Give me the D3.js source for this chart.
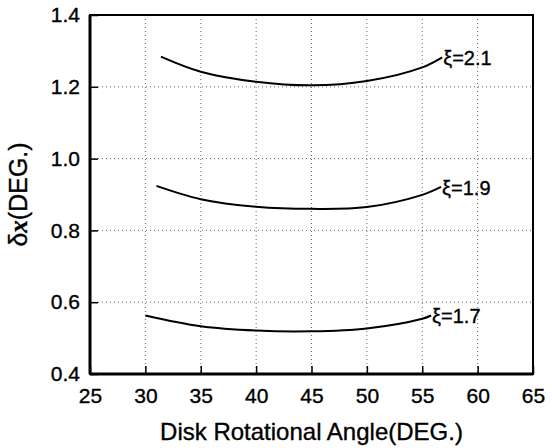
<!DOCTYPE html>
<html>
<head>
<meta charset="utf-8">
<script src="https://cdn.jsdelivr.net/npm/d3@7"></script>
<style>
body { margin: 0; background: #fff; }
text { font-family: "Liberation Sans", Arial, sans-serif; fill: #000; stroke: #000; stroke-width: 0.35px; }
</style>
</head>
<body>
<div id="chart"></div>
<script>
var margin = {top: 15, right: 19, bottom: 74, left: 90},
width = 552 - margin.left - margin.right,
height = 448 - margin.top - margin.bottom;

// data
var xTicks = [25, 30, 35, 40, 45, 50, 55, 60, 65];
var yTicks = [0.4, 0.6, 0.8, 1.0, 1.2, 1.4];
var seriesNames = ["\u03BE=2.1", "\u03BE=1.9", "\u03BE=1.7"];
var angle21 = [31.4, 35, 40, 45, 50, 55, 56.8];
var dx21    = [1.284, 1.242, 1.214, 1.204, 1.216, 1.254, 1.282];
var angle19 = [31.0, 35, 40, 45, 50, 55, 56.7];
var dx19    = [0.924, 0.887, 0.866, 0.860, 0.865, 0.899, 0.921];
var angle17 = [30.0, 35, 40, 45, 50, 55, 55.8];
var dx17    = [0.563, 0.533, 0.521, 0.519, 0.527, 0.554, 0.563];

var series = [
  {name: seriesNames[0], pts: angle21.map((a, i) => [a, dx21[i]])},
  {name: seriesNames[1], pts: angle19.map((a, i) => [a, dx19[i]])},
  {name: seriesNames[2], pts: angle17.map((a, i) => [a, dx17[i]])}
];

var x = d3.scaleLinear().domain([25, 65]).range([0, width]);
var y = d3.scaleLinear().domain([0.4, 1.4]).range([height, 0]);

var svg = d3.select('#chart').append("svg")
.attr("width", width + margin.left + margin.right)
.attr("height", height + margin.top + margin.bottom)
.append("g")
.attr("transform", "translate(" + margin.left + "," + margin.top + ")");

// grid
svg.selectAll(".vgrid")
.data(xTicks.slice(1, -1))
.enter().append("line")
.attr("x1", d => x(d)).attr("x2", d => x(d))
.attr("y1", 0).attr("y2", height)
.style("stroke", "#444").style("stroke-width", 0.8)
.style("stroke-dasharray", "1,3");

svg.selectAll(".hgrid")
.data(yTicks.slice(1, -1))
.enter().append("line")
.attr("x1", 0).attr("x2", width)
.attr("y1", d => y(d)).attr("y2", d => y(d))
.style("stroke", "#444").style("stroke-width", 0.8)
.style("stroke-dasharray", "1,3");

// axes, ticks inward
var xAxis = d3.axisBottom(x).tickValues(xTicks).tickSize(-8).tickPadding(14).tickFormat(d3.format("d"));
var yAxis = d3.axisLeft(y).tickValues(yTicks).tickSize(-8).tickPadding(10).tickFormat(d3.format(".1f"));

svg.append("g")
.attr("transform", "translate(0," + height + ")")
.call(xAxis)
.call(g => g.select(".domain").remove())
.call(g => g.selectAll("line").style("stroke-width", 1.5))
.call(g => g.selectAll("text").style("font-size", "21px"));

svg.append("g")
.call(yAxis)
.call(g => g.select(".domain").remove())
.call(g => g.selectAll("line").style("stroke-width", 1.5))
.call(g => g.selectAll("text").style("font-size", "21px"));

// frame
svg.append("rect")
.attr("width", width).attr("height", height)
.style("fill", "none").style("stroke", "#000").style("stroke-width", 2);
svg.append("line").attr("x1", 0).attr("x2", 0).attr("y1", 0).attr("y2", height)
.style("stroke", "#000").style("stroke-width", 3);
svg.append("line").attr("x1", 0).attr("x2", width).attr("y1", height).attr("y2", height)
.style("stroke", "#000").style("stroke-width", 3);

// curves
var line = d3.line().x(d => x(d[0])).y(d => y(d[1])).curve(d3.curveCatmullRom);

svg.selectAll(".curve")
.data(series)
.enter().append("path")
.attr("d", d => line(d.pts))
.style("fill", "none").style("stroke", "#000").style("stroke-width", 2);

svg.selectAll(".lbl")
.data(series)
.enter().append("text")
.attr("x", d => x(d.pts[d.pts.length - 1][0]) + 1)
.attr("y", d => y(d.pts[d.pts.length - 1][1]))
.attr("dy", "0.38em")
.style("font-size", "20px")
.text(d => d.name);

// axis titles
svg.append("text")
.attr("x", width / 2)
.attr("y", height + 66)
.style("text-anchor", "middle")
.style("font-size", "24px")
.text("Disk Rotational Angle(DEG.)");

var yt = svg.append("text")
.attr("transform", "translate(-63," + (height / 2) + ") rotate(-90)")
.style("text-anchor", "middle")
.style("font-size", "25px");
yt.append("tspan").text("\u03B4");
yt.append("tspan").style("font-family", "'Liberation Serif', serif").style("font-style", "italic").style("font-weight", "bold").text("x");
yt.append("tspan").text("(DEG.)");
</script>
</body>
</html>
